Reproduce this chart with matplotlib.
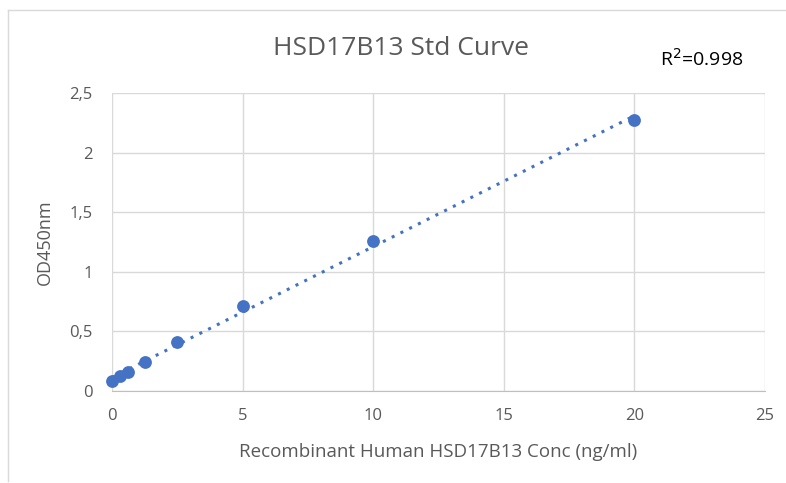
import numpy as np
import matplotlib.pyplot as plt
from matplotlib.lines import Line2D
from matplotlib.ticker import FuncFormatter

conc = [0, 0.3125, 0.625, 1.25, 2.5, 5, 10, 20]
od450 = [0.085, 0.125, 0.16, 0.24, 0.41, 0.71, 1.26, 2.27]
x_ticks = [0, 5, 10, 15, 20, 25]
y_ticks = [0, 0.5, 1, 1.5, 2, 2.5]

plt.rcParams['font.family'] = ['Open Sans', 'DejaVu Sans']
gray = '#595959'

fig = plt.figure(figsize=(7.86, 4.83), dpi=100)
ax = fig.add_axes([0.1425, 0.1905, 0.8305, 0.617])

# linear trendline
k, b = np.polyfit(conc, od450, 1)
xs = np.array([min(conc), max(conc)])
ax.plot(xs, k * xs + b, color='#4472c4', linestyle=(0, (1, 2.2)), linewidth=2.2, zorder=2)
ax.scatter(conc, od450, s=85, color='#4472c4', zorder=3, linewidths=0, clip_on=False)

ax.set_xlim(0, 25)
ax.set_ylim(0, 2.5)
ax.set_xticks(x_ticks)
ax.set_yticks(y_ticks)
fmt = FuncFormatter(lambda v, p: ('%g' % v).replace('.', ','))
ax.xaxis.set_major_formatter(fmt)
ax.yaxis.set_major_formatter(fmt)
ax.grid(True, color='#d9d9d9', linewidth=1)
ax.set_axisbelow(True)
for s in ['top', 'right', 'left']:
    ax.spines[s].set_visible(False)
ax.spines['bottom'].set_color('#bfbfbf')
ax.tick_params(length=0, colors=gray, labelsize=12, pad=12)
ax.tick_params(axis='y', pad=14)

ax.set_xlabel('Recombinant Human HSD17B13 Conc (ng/ml)', color=gray, fontsize=13.5, labelpad=14)
ax.set_ylabel('OD450nm', color=gray, fontsize=13, labelpad=11)
fig.text(0.51, 0.9, 'HSD17B13 Std Curve', ha='center', va='center', color=gray, fontsize=19)
fig.text(0.84, 0.878, r'R$^2$=0.998', ha='left', va='center', color='black', fontsize=14)

fig.add_artist(Line2D([0.01, 0.01], [0.005, 0.979], color='#d9d9d9', linewidth=1))
fig.add_artist(Line2D([0.01, 1.0], [0.979, 0.979], color='#d9d9d9', linewidth=1))

fig.savefig('out.png', dpi=100)
